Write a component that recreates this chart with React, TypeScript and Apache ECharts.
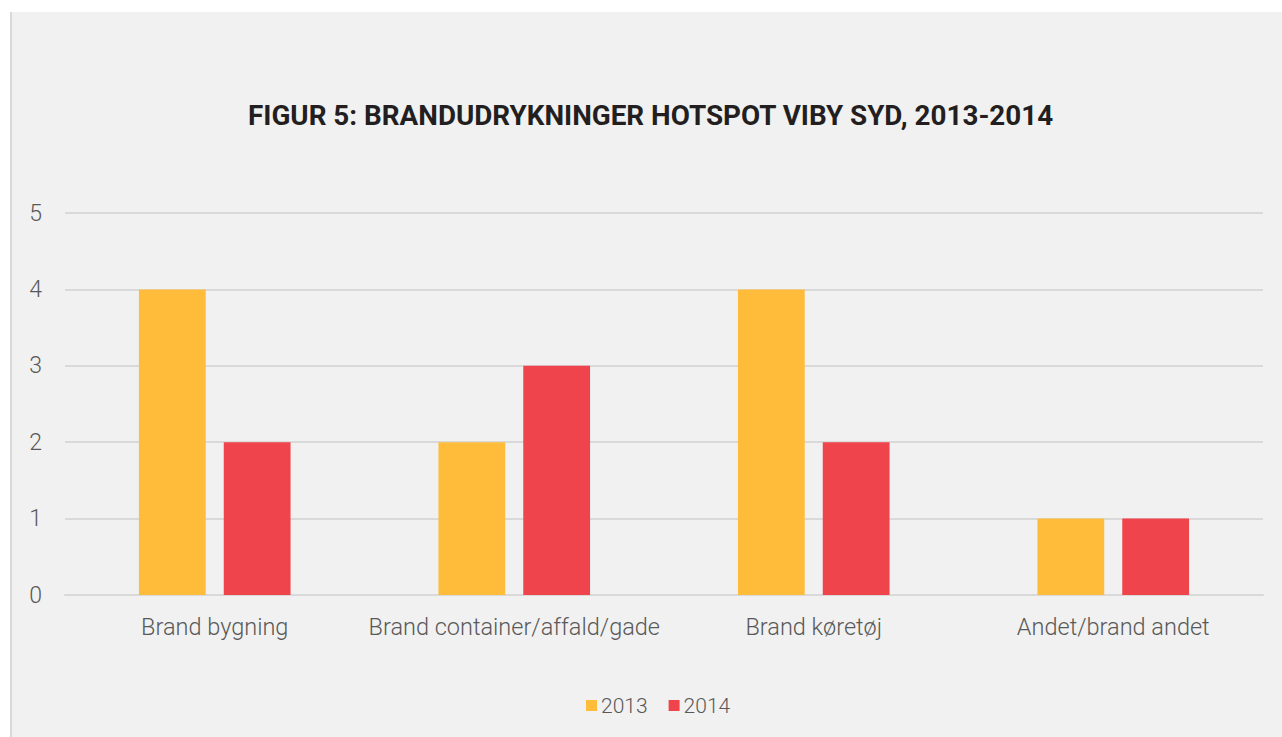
import React, { useEffect, useRef } from "react";
import * as echarts from "echarts";

const title = "FIGUR 5: BRANDUDRYKNINGER HOTSPOT VIBY SYD, 2013-2014";
const categories = ["Brand bygning", "Brand container/affald/gade", "Brand køretøj", "Andet/brand andet"];
const seriesNames = ["2013", "2014"];
const values2013 = [4, 2, 4, 1];
const values2014 = [2, 3, 2, 1];
const colors = ["#ffbc3b", "#ef444c"];

export default function App() {
  const ref = useRef<HTMLDivElement>(null);
  useEffect(() => {
    document.body.style.margin = "0";
    const chart = echarts.init(ref.current!, null, { renderer: "svg" });
    const font = "Roboto, 'Liberation Sans', sans-serif";
    chart.setOption({
      animation: false,
      backgroundColor: "#f1f1f1",
      title: {
        text: title,
        left: 231,
        top: 84,
        textStyle: { fontFamily: font, fontWeight: "bold", fontSize: 27.8, color: "#231f20", letterSpacing: -0.75 },
      },
      grid: { left: 53, right: 19, top: 201, bottom: 142, containLabel: false },
      legend: {
        bottom: 16,
        left: 569,
        icon: "rect",
        itemWidth: 11,
        itemHeight: 11,
        itemGap: 21,
        textStyle: { fontFamily: font, fontWeight: 300, fontSize: 21, color: "#595959", padding: [0, 0, 0, -1] },
        data: seriesNames,
      },
      xAxis: {
        type: "category",
        data: categories,
        axisLine: { lineStyle: { color: "#d9d9d9", width: 2 } },
        axisTick: { show: false },
        axisLabel: { interval: 0, fontFamily: font, fontWeight: 300, fontSize: 23.5, color: "#595959", margin: 20 },
      },
      yAxis: {
        type: "value",
        min: 0,
        max: 5,
        interval: 1,
        axisLine: { show: false },
        axisTick: { show: false },
        splitLine: { lineStyle: { color: "#d9d9d9", width: 2 } },
        axisLabel: { fontFamily: font, fontWeight: 300, fontSize: 23, color: "#595959", margin: 23 },
      },
      series: [
        { name: seriesNames[0], type: "bar", data: values2013, itemStyle: { color: colors[0] }, barWidth: "22.3%", barGap: "27%" },
        { name: seriesNames[1], type: "bar", data: values2014, itemStyle: { color: colors[1] }, barWidth: "22.3%", barGap: "27%" },
      ],
    });
    return () => chart.dispose();
  }, []);
  return (
    <div style={{ position: "fixed", left: 0, top: 0, width: 1282, height: 737, background: "#ffffff" }}>
      <div style={{ position: "absolute", left: 10, top: 12, width: 2, height: 725, background: "#d9d9d9" }} />
      <div ref={ref} style={{ position: "absolute", left: 12, top: 12, width: 1270, height: 725 }} />
    </div>
  );
}
